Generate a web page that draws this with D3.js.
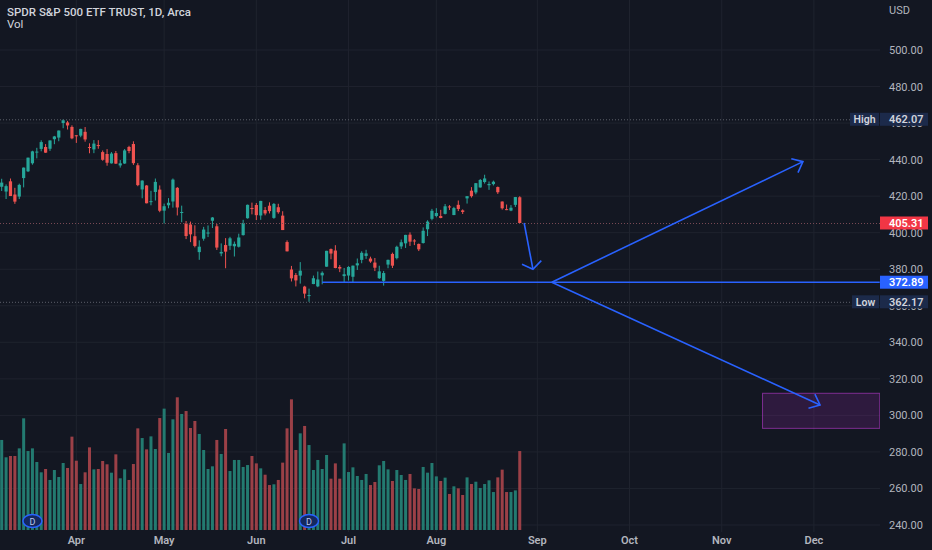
<!DOCTYPE html>
<html>
<head>
<meta charset="utf-8">
<script src="https://cdn.jsdelivr.net/npm/d3@7"></script>
<style>
html, body { margin: 0; padding: 0; background: #131722; overflow: hidden; }
svg { display: block; font-family: Roboto, "Open Sans", sans-serif; }
</style>
</head>
<body>
<svg id="chart" width="932" height="550"></svg>
<script>
// SPY daily bars, 9 Mar - 26 Aug 2022
const dates = ["03-09","03-10","03-11","03-14","03-15","03-16","03-17","03-18","03-21","03-22","03-23","03-24","03-25","03-28","03-29","03-30","03-31",
  "04-01","04-04","04-05","04-06","04-07","04-08","04-11","04-12","04-13","04-14","04-18","04-19","04-20","04-21","04-22","04-25","04-26","04-27","04-28","04-29",
  "05-02","05-03","05-04","05-05","05-06","05-09","05-10","05-11","05-12","05-13","05-16","05-17","05-18","05-19","05-20","05-23","05-24","05-25","05-26","05-27","05-31",
  "06-01","06-02","06-03","06-06","06-07","06-08","06-09","06-10","06-13","06-14","06-15","06-16","06-17","06-21","06-22","06-23","06-24","06-27","06-28","06-29","06-30",
  "07-01","07-05","07-06","07-07","07-08","07-11","07-12","07-13","07-14","07-15","07-18","07-19","07-20","07-21","07-22","07-25","07-26","07-27","07-28","07-29",
  "08-01","08-02","08-03","08-04","08-05","08-08","08-09","08-10","08-11","08-12","08-15","08-16","08-17","08-18","08-19","08-22","08-23","08-24","08-25","08-26"];

const opens = [425.14,422.52,428.12,420.89,419.77,429.89,433.59,438.00,444.34,445.86,446.91,445.94,451.16,452.06,460.02,460.34,457.89,
  453.31,453.13,455.22,446.89,445.59,447.97,444.11,443.08,437.96,443.55,436.81,437.86,446.92,448.54,436.91,423.67,425.83,417.24,422.29,423.59,
  412.07,415.01,417.08,424.55,411.10,405.10,404.49,398.07,389.37,396.71,399.98,406.53,403.50,388.62,393.25,392.83,392.56,392.31,398.67,407.91,413.55,
  415.17,409.42,412.40,414.78,408.10,413.93,409.34,394.88,379.85,376.85,376.51,370.51,365.51,371.89,370.62,376.64,381.40,391.05,390.23,381.23,376.24,
  376.56,375.88,382.11,385.12,387.27,385.85,383.65,375.10,373.61,382.55,388.38,386.08,392.47,394.16,398.92,395.75,393.84,394.36,401.89,407.58,
  409.15,409.12,410.30,414.37,409.66,415.25,412.22,418.78,422.99,422.03,424.77,427.73,425.99,426.59,424.98,417.05,412.90,412.11,415.24,419.39];

const highs = [429.51,426.43,429.66,424.55,426.84,435.68,441.07,444.86,446.46,450.58,448.49,450.50,452.98,455.91,462.07,461.20,458.76,
  453.46,456.91,457.83,448.93,450.69,450.63,445.00,445.75,444.11,444.73,439.75,445.80,447.57,450.01,438.08,428.69,426.04,422.92,429.64,425.87,
  415.92,418.93,429.66,425.00,414.80,406.41,406.08,404.04,395.80,403.18,403.97,408.57,404.80,394.14,397.03,397.73,395.15,399.45,407.04,415.38,416.46,
  416.24,417.44,414.04,416.61,416.22,415.82,411.74,395.78,381.81,377.94,383.90,370.94,369.38,376.53,378.72,378.83,390.09,391.36,393.16,382.27,380.66,
  381.70,381.98,385.87,389.83,390.64,386.87,386.16,381.92,379.05,385.25,389.09,392.87,396.26,398.84,400.18,396.47,394.06,402.88,406.80,413.03,
  413.41,412.50,415.68,415.09,414.15,417.62,412.75,420.00,424.95,427.21,429.40,431.73,428.03,428.50,425.26,417.11,415.42,415.11,419.56,419.96];

const lows = [422.82,418.44,420.06,415.79,418.42,424.80,433.19,437.22,440.68,444.56,443.71,444.76,448.43,450.06,457.18,456.47,451.16,
  449.14,452.26,449.82,443.47,443.53,445.94,439.39,436.65,437.84,437.68,435.61,437.68,443.48,437.10,425.44,418.84,416.07,415.01,417.60,411.21,
  405.02,413.36,413.71,409.44,405.73,396.50,394.82,391.96,385.15,395.61,397.60,402.58,390.55,387.11,380.54,390.57,386.96,391.89,398.45,407.70,410.03,
  406.93,407.04,409.51,410.55,407.61,410.38,401.44,389.75,373.30,370.59,372.12,364.08,362.17,371.81,370.18,371.73,381.37,385.45,380.53,378.42,372.56,
  373.80,372.90,379.60,383.27,385.66,383.50,378.99,374.66,371.04,380.54,380.66,385.39,391.03,391.63,392.75,393.21,389.95,394.05,398.15,406.77,
  408.40,407.89,410.00,412.44,409.60,411.83,410.22,415.94,419.21,421.03,424.64,426.88,423.45,425.86,421.22,412.63,412.35,411.77,414.09,405.25];

const closes = [427.41,425.48,420.07,417.00,426.17,435.62,441.07,444.52,444.39,449.59,443.80,450.49,452.69,455.91,461.55,458.70,451.64,
  452.92,456.80,451.03,446.52,448.77,447.57,439.92,438.29,443.31,437.79,437.97,445.04,444.71,438.06,426.04,428.51,416.10,417.27,427.81,412.00,
  414.48,416.38,429.06,413.81,411.34,398.17,399.09,392.75,392.34,401.72,400.09,408.32,391.86,389.46,389.63,396.92,393.89,397.37,405.31,415.26,412.93,
  409.59,417.39,410.54,411.79,415.74,411.22,401.44,389.80,375.00,373.87,379.20,366.65,365.86,375.07,374.39,378.06,390.08,388.59,380.65,380.34,377.25,
  381.24,381.96,383.25,388.99,388.67,384.23,380.83,378.83,377.91,385.13,381.95,392.27,394.77,398.79,395.09,395.57,390.89,401.04,406.07,411.99,
  410.77,408.06,414.45,414.17,413.47,412.99,411.35,419.99,419.99,427.10,428.86,429.70,426.65,427.89,422.14,413.35,412.35,413.67,419.51,405.31];

// volume in millions
const volumes = [97.7,78.9,80.3,80.3,88.6,121.2,85.7,88.6,73.8,62.6,66.2,54.3,65.1,57.5,72.7,67.3,101.3,
  75.2,49.9,62.6,89.7,65.8,66.2,74.9,71.3,62.2,82.1,56.1,65.8,54.3,71.6,110.3,99.8,87.5,101.6,87.9,121.5,
  131.7,83.6,120.1,144.0,125.9,129.1,110.7,118.3,104.2,86.8,66.2,69.1,97.7,82.5,109.6,64.0,76.0,76.0,68.4,70.5,80.3,
  72.3,66.9,60.0,48.8,49.6,54.3,73.1,110.3,141.8,86.8,104.9,112.9,92.2,65.1,76.0,66.2,81.4,55.7,72.3,55.7,94.0,
  62.9,68.0,58.6,54.3,60.8,48.8,52.1,70.2,74.9,65.8,53.2,65.1,59.7,54.3,60.8,45.2,44.5,68.4,62.2,72.7,
  58.2,53.2,56.8,39.1,47.4,45.2,38.0,57.1,49.9,52.4,45.6,49.9,53.9,41.2,57.1,65.5,41.2,41.2,43.0,85.7];

const dividendIdx = [7, 70];

const monthLabels = ["Apr","May","Jun","Jul","Aug","Sep","Oct","Nov","Dec"];
const monthIdx = [17, 37, 58, 79, 99, 122, 143, 164, 185];
const priceTicks = [240,260,280,300,320,340,360,380,400,420,440,460,480,500];

const highMark = 462.07, lowMark = 362.17, lastPrice = 405.31, linePrice = 372.89;

// user drawings in [bar index, price]
const drawings = [
  { type: "line",  from: [73, 372.89],    to: [200, 372.89] },
  { type: "arrow", from: [119, 405.3],    to: [121, 380.0],   head: 55 },
  { type: "arrow", from: [125.3, 372.89], to: [182.5, 438.9], head: 40 },
  { type: "arrow", from: [125.3, 372.89], to: [186.4, 305.7], head: 40 }
];
const zone = { from: [173.3, 312.1], to: [200, 292.9] };

const up = "#26a69a", down = "#ef5350", blue = "#2962ff";
const paneRight = 880;

const svg = d3.select("#chart");
svg.append("rect").attr("width", 932).attr("height", 550).attr("fill", "#131722");

const x = d3.scaleLinear().domain([0, 185]).range([1.7, 813.9]);
const y = d3.scaleLinear().domain([240, 500]).range([525, 50]);
const yVol = d3.scaleLinear().domain([0, 144]).range([530, 397.3]);

svg.append("clipPath").attr("id", "pane")
  .append("rect").attr("x", 0).attr("y", 0).attr("width", paneRight).attr("height", 550);

const pane = svg.append("g").attr("clip-path", "url(#pane)");

// grid
pane.selectAll("line.hgrid").data(priceTicks).join("line")
  .attr("class", "hgrid")
  .attr("x1", 0).attr("x2", paneRight)
  .attr("y1", d => y(d)).attr("y2", d => y(d))
  .attr("stroke", "#1f232e").attr("stroke-width", 1);

pane.selectAll("line.vgrid").data(monthIdx).join("line")
  .attr("class", "vgrid")
  .attr("x1", d => x(d)).attr("x2", d => x(d))
  .attr("y1", 0).attr("y2", 532)
  .attr("stroke", "#1f232e").attr("stroke-width", 1);

const bars = d3.range(closes.length);
const isUp = i => closes[i] >= opens[i];

// volume
pane.selectAll("rect.vol").data(bars).join("rect")
  .attr("class", "vol")
  .attr("x", i => x(i) - 1.5)
  .attr("width", 3)
  .attr("y", i => yVol(volumes[i]))
  .attr("height", i => yVol(0) - yVol(volumes[i]))
  .attr("fill", i => isUp(i) ? "#237a70" : "#9b4047");

// candles
const candle = pane.selectAll("g.candle").data(bars).join("g").attr("class", "candle");
candle.append("line")
  .attr("x1", i => x(i)).attr("x2", i => x(i))
  .attr("y1", i => y(highs[i])).attr("y2", i => y(lows[i]))
  .attr("stroke", i => isUp(i) ? up : down).attr("stroke-width", 1);
candle.append("rect")
  .attr("x", i => x(i) - 1.6)
  .attr("width", 3.2)
  .attr("y", i => y(Math.max(opens[i], closes[i])))
  .attr("height", i => Math.max(1, Math.abs(y(opens[i]) - y(closes[i]))))
  .attr("fill", i => isUp(i) ? up : down);

// high / low / last price lines
[[highMark, "#5d606b", 850], [lowMark, "#5d606b", 852], [lastPrice, "#7a4a55", paneRight]].forEach(([v, c, end]) => {
  pane.append("line")
    .attr("x1", 0).attr("x2", end).attr("y1", y(v) + 0.5).attr("y2", y(v) + 0.5)
    .attr("stroke", c).attr("stroke-width", 1).attr("stroke-dasharray", "1 2");
});

// dividend markers
const div = pane.selectAll("g.div").data(dividendIdx).join("g").attr("class", "div");
div.append("ellipse")
  .attr("cx", d => x(d)).attr("cy", 521).attr("rx", 9.5).attr("ry", 6.5)
  .attr("fill", "#14285f").attr("stroke", blue).attr("stroke-width", 1.5);
div.append("text")
  .attr("x", d => x(d)).attr("y", 524.5)
  .attr("text-anchor", "middle").attr("font-size", 9).attr("fill", "#b8c4ee")
  .text("D");

// purple target zone
pane.append("rect")
  .attr("x", x(zone.from[0])).attr("y", y(zone.from[1]))
  .attr("width", x(zone.to[0]) - x(zone.from[0]))
  .attr("height", y(zone.to[1]) - y(zone.from[1]))
  .attr("fill", "rgba(156,39,176,0.2)").attr("stroke", "rgba(186,60,210,0.6)").attr("stroke-width", 1);

// drawings
drawings.forEach(d => {
  const x1 = x(d.from[0]), y1 = y(d.from[1]), x2 = x(d.to[0]), y2 = y(d.to[1]);
  pane.append("line").attr("x1", x1).attr("y1", y1).attr("x2", x2).attr("y2", y2)
    .attr("stroke", blue).attr("stroke-width", 1.6);
  if (d.type === "arrow") {
    const back = Math.atan2(y1 - y2, x1 - x2);
    const a = d.head * Math.PI / 180, len = 12;
    const p = [back - a, back + a].map(t => [x2 + len * Math.cos(t), y2 + len * Math.sin(t)]);
    pane.append("path")
      .attr("d", `M${p[0][0]},${p[0][1]}L${x2},${y2}L${p[1][0]},${p[1][1]}`)
      .attr("fill", "none").attr("stroke", blue).attr("stroke-width", 1.6);
  }
});

// price axis
const axisText = "#b2b5be";
svg.selectAll("text.ptick").data(priceTicks).join("text")
  .attr("class", "ptick")
  .attr("x", 889).attr("y", d => y(d) + 4)
  .attr("font-size", 11).attr("fill", axisText)
  .text(d => d3.format(".2f")(d));

svg.append("text").attr("x", 889).attr("y", 14).attr("font-size", 11).attr("fill", axisText).text("USD");

// time axis
svg.selectAll("text.mtick").data(monthIdx).join("text")
  .attr("class", "mtick")
  .attr("x", d => x(d)).attr("y", 544)
  .attr("text-anchor", "middle").attr("font-size", 11).attr("font-weight", 600).attr("fill", axisText)
  .text((d, i) => monthLabels[i]);

// price labels
function priceLabel(v, bg, fg, tag, tagX) {
  const cy = y(v);
  if (tag) {
    svg.append("rect").attr("x", tagX).attr("y", cy - 6.5).attr("width", 879 - tagX).attr("height", 13).attr("fill", bg);
    svg.append("text").attr("x", (tagX + 879) / 2).attr("y", cy + 4)
      .attr("text-anchor", "middle").attr("font-size", 10.5).attr("font-weight", 600).attr("fill", fg).text(tag);
  }
  svg.append("rect").attr("x", 880).attr("y", cy - 6.5).attr("width", 48).attr("height", 13).attr("fill", bg);
  svg.append("text").attr("x", 889).attr("y", cy + 4)
    .attr("font-size", 11).attr("font-weight", 600).attr("fill", fg).text(d3.format(".2f")(v));
}
priceLabel(highMark, "#1c2a4a", "#d1d4dc", "High", 850);
priceLabel(lastPrice, "#f23645", "#ffffff");
priceLabel(linePrice, blue, "#ffffff");
priceLabel(lowMark, "#1c2a4a", "#d1d4dc", "Low", 852);

// legend
svg.append("text").attr("x", 7).attr("y", 16).attr("font-size", 11.5).attr("font-weight", 500)
  .attr("fill", "#d1d4dc").text("SPDR S&P 500 ETF TRUST, 1D, Arca");
svg.append("text").attr("x", 7).attr("y", 28).attr("font-size", 11.5)
  .attr("fill", "#d1d4dc").text("Vol");
</script>
</body>
</html>
